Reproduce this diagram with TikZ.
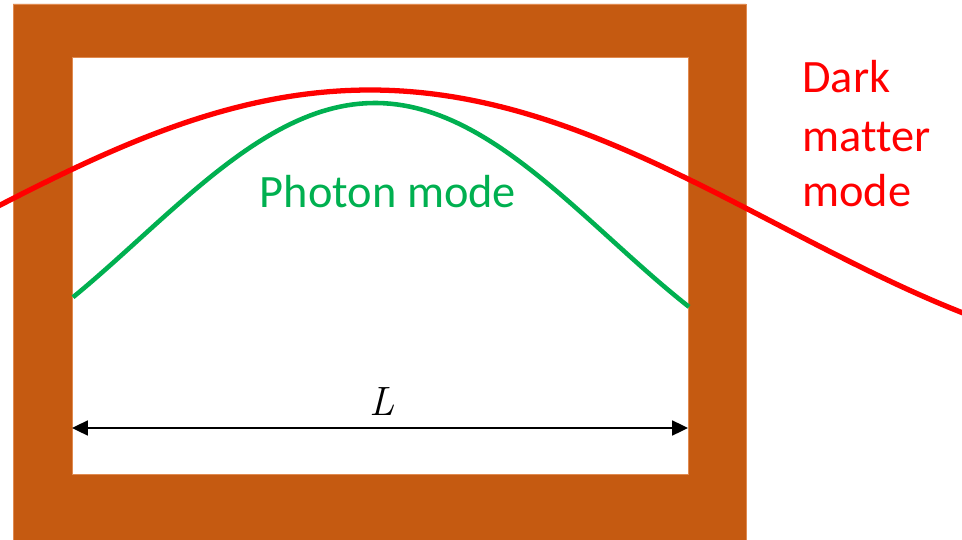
\documentclass[tikz,border=0pt]{standalone}
\usepackage{fontspec}
\usepackage{tikz}
\usetikzlibrary{arrows.meta}
\newfontfamily\calibri[Ligatures=NoCommon]{Carlito}
\newfontfamily\lmroman{Latin Modern Roman}
\definecolor{wall}{HTML}{C55A11}
\definecolor{walledge}{HTML}{E08A50}
\definecolor{dmred}{HTML}{FF0000}
\definecolor{photon}{HTML}{00B050}

\begin{document}
\begin{tikzpicture}[x=0.02cm,y=-0.02cm,
  lbl/.style={font={\calibri\fontsize{26.4}{32}\selectfont},inner sep=0pt},
  dmline/.style={draw=dmred,line width=3pt},
  phline/.style={draw=photon,line width=2.6pt},
  dimarrow/.style={draw=black,line width=1.1pt,{Triangle[length=9pt,width=8.5pt]}-{Triangle[length=9pt,width=8.5pt]}}]

  \useasboundingbox (0,0) rectangle (962,540);

  % cavity walls
  \fill[wall,draw=walledge,line width=0.4pt,even odd rule]
    (13,4) rectangle (746,548) (72,57) rectangle (688,474);

  % the two modes
  \draw[dmline] plot[domain=-5:967,samples=120]
    (\x,{90+135*(1-cos(deg((\x-370)/260)))});
  \draw[phline] plot[domain=73:689,samples=100]
    (\x,{103+136*(1-cos(deg((\x-375)/150)))});

  \node[lbl,text=photon,anchor=base] (phlabel) at (388,208) {Photon mode};
  \foreach \w/\yy in {Dark/93,matter/152,mode/207}{
    \node[lbl,text=dmred,anchor=base west] (dm\w) at (802,\yy) {\w};
  }

  % cavity length
  \coordinate (lend) at (72,428);
  \coordinate (rend) at (688,428);
  \draw[dimarrow] (lend) -- (rend);
  \node[inner sep=0pt,anchor=base,font={\lmroman\itshape\fontsize{23.3}{28}\selectfont}]
    (len) at (382,415) {L};
\end{tikzpicture}
\end{document}
